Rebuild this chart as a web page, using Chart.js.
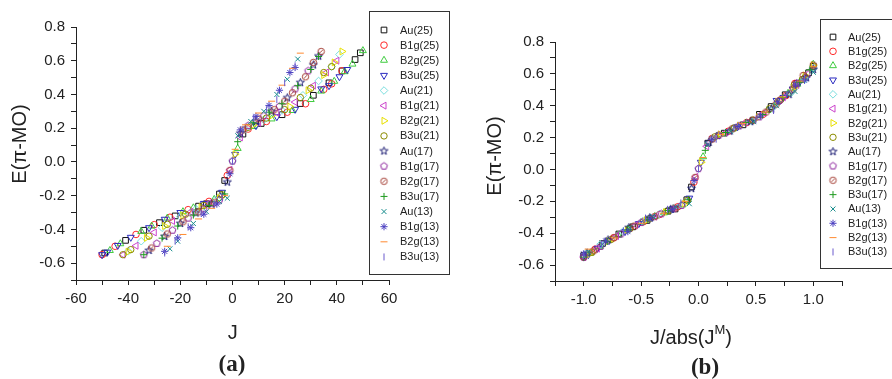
<!DOCTYPE html>
<html>
<head>
<meta charset="utf-8">
<script src="https://cdn.jsdelivr.net/npm/chart.js@4.4.0/dist/chart.umd.min.js"></script>
<style>
  body { margin: 0; background: #fff; width: 892px; height: 379px; overflow: hidden; position: relative; }
  canvas { position: absolute; top: 0; }
  #chartA { left: 0; }
  #chartB { left: 450px; }
</style>
</head>
<body>
<canvas id="chartA" width="450" height="379" style="width:450px;height:379px"></canvas>
<canvas id="chartB" width="442" height="379" style="width:442px;height:379px"></canvas>
<script>
// J values and E(pi-MO) values per symmetry / ring size
const au25J  = [-49, -41, -34, -28, -22, -13, -10, -5, -3, 4, 11, 19, 26, 31, 37, 42, 47, 49];
const au25E  = [-0.54, -0.465, -0.405, -0.36, -0.32, -0.262, -0.248, -0.19, -0.11, 0.165, 0.228, 0.28, 0.346, 0.395, 0.469, 0.54, 0.607, 0.647];
const b1g25J = [-50, -45, -37, -30, -24, -17, -9, -2, 6, 13, 21, 28, 35, 38, 42];
const b1g25E = [-0.55, -0.5, -0.43, -0.372, -0.328, -0.283, -0.234, -0.08, 0.195, 0.24, 0.295, 0.345, 0.43, 0.463, 0.54];
const b2g25J = [-47, -43, -35, -31, -25, -19, -15, -7, 2, 8, 15, 23, 30, 34, 39, 43, 46, 50];
const b2g25E = [-0.525, -0.485, -0.412, -0.38, -0.333, -0.295, -0.272, -0.222, 0.08, 0.21, 0.255, 0.305, 0.37, 0.42, 0.478, 0.535, 0.58, 0.66];
const b3u25J = [-50, -48, -44, -39, -32, -26, -20, -11, -4, 1, 9, 17, 24, 34, 37, 41, 44];
const b3u25E = [-0.55, -0.535, -0.495, -0.447, -0.39, -0.34, -0.3, -0.246, -0.18, 0.045, 0.215, 0.268, 0.312, 0.433, 0.452, 0.505, 0.548];

const au21J  = [-40, -35, -27, -20, -14, -6, 0, 5, 12, 19, 27, 33, 38, 41];
const au21E  = [-0.53, -0.47, -0.39, -0.325, -0.28, -0.222, 0.005, 0.195, 0.25, 0.305, 0.395, 0.48, 0.565, 0.637];
const b1g21J = [-42, -37, -30, -23, -16, -9, -1, 3, 10, 17, 24, 31, 36, 40];
const b1g21E = [-0.55, -0.497, -0.418, -0.35, -0.296, -0.245, -0.046, 0.145, 0.232, 0.292, 0.355, 0.452, 0.53, 0.6];
const b2g21J = [-40, -33, -26, -19, -12, -5, 1, 8, 15, 22, 29, 35, 39, 42];
const b2g21E = [-0.532, -0.45, -0.38, -0.318, -0.268, -0.215, 0.045, 0.22, 0.275, 0.328, 0.425, 0.515, 0.59, 0.655];
const b3u21J = [-42, -39, -32, -25, -18, -11, -4, 6, 13, 20, 26, 30, 35, 38];
const b3u21E = [-0.55, -0.52, -0.44, -0.37, -0.31, -0.258, -0.195, 0.205, 0.26, 0.31, 0.382, 0.437, 0.53, 0.565];

const au17J  = [-32, -26, -20, -14, -8, -2, 3, 9, 15, 21, 26, 31, 33];
const au17E  = [-0.525, -0.442, -0.365, -0.303, -0.25, -0.12, 0.17, 0.24, 0.3, 0.38, 0.47, 0.575, 0.627];
const b1g17J = [-34, -29, -23, -17, -11, -5, 0, 6, 12, 18, 24, 29];
const b1g17E = [-0.55, -0.483, -0.405, -0.333, -0.278, -0.225, 0.005, 0.215, 0.273, 0.33, 0.433, 0.54];
const b2g17J = [-31, -25, -19, -13, -7, -1, 4, 10, 16, 20, 23, 28, 31, 34];
const b2g17E = [-0.51, -0.427, -0.355, -0.296, -0.242, -0.05, 0.19, 0.255, 0.31, 0.36, 0.41, 0.505, 0.59, 0.655];
const b3u17J = [-34, -27, -21, -15, -9, -3, 2, 8, 14, 19, 25, 30, 33];
const b3u17E = [-0.55, -0.452, -0.38, -0.315, -0.258, -0.19, 0.12, 0.232, 0.295, 0.345, 0.452, 0.548, 0.625];

const au13J  = [-24, -21, -15, -10, -5, -2, 2, 7, 12, 17, 21, 25];
const au13E  = [-0.515, -0.47, -0.365, -0.295, -0.235, -0.215, 0.155, 0.24, 0.3, 0.4, 0.49, 0.61];
const b1g13J = [-26, -21, -16, -11, -6, -1, 3, 9, 14, 18, 22, 24];
const b1g13E = [-0.53, -0.45, -0.39, -0.31, -0.25, -0.07, 0.19, 0.27, 0.335, 0.425, 0.53, 0.56];
const b2g13J = [-25, -19, -13, -8, -3, 1, 5, 10, 15, 19, 23, 26];
const b2g13E = [-0.5, -0.43, -0.338, -0.275, -0.2, 0.075, 0.22, 0.29, 0.36, 0.455, 0.555, 0.645];
const b3u13J = [-26, -22, -17, -12, -7, -4, 0, 4, 8, 13, 17, 20, 24];
const b3u13E = [-0.54, -0.47, -0.385, -0.305, -0.25, -0.21, 0.005, 0.19, 0.26, 0.31, 0.37, 0.47, 0.57];

const seriesLabels = ['Au(25)', 'B1g(25)', 'B2g(25)', 'B3u(25)', 'Au(21)', 'B1g(21)', 'B2g(21)', 'B3u(21)',
                      'Au(17)', 'B1g(17)', 'B2g(17)', 'B3u(17)', 'Au(13)', 'B1g(13)', 'B2g(13)', 'B3u(13)'];
const seriesJ = [au25J, b1g25J, b2g25J, b3u25J, au21J, b1g21J, b2g21J, b3u21J,
                 au17J, b1g17J, b2g17J, b3u17J, au13J, b1g13J, b2g13J, b3u13J];
const seriesE = [au25E, b1g25E, b2g25E, b3u25E, au21E, b1g21E, b2g21E, b3u21E,
                 au17E, b1g17E, b2g17E, b3u17E, au13E, b1g13E, b2g13E, b3u13E];

const FONT = '"Liberation Sans", Arial, Helvetica, sans-serif';
Chart.defaults.font.family = FONT;
Chart.defaults.color = '#222';

// little canvases for the markers Chart.js doesn't have
function marker(draw, color) {
  const c = document.createElement('canvas');
  c.width = 11; c.height = 11;
  const g = c.getContext('2d');
  g.strokeStyle = color; g.lineWidth = 1;
  g.translate(5.5, 5.5);
  draw(g);
  return c;
}
const star5 = g => {
  g.beginPath();
  for (let i = 0; i < 10; i++) {
    const r = i % 2 ? 1.7 : 4.2;
    const a = -Math.PI / 2 + i * Math.PI / 5;
    g.lineTo(r * Math.cos(a), r * Math.sin(a));
  }
  g.closePath(); g.stroke();
};
const pentagon = g => {
  g.beginPath();
  for (let i = 0; i < 5; i++) {
    const a = -Math.PI / 2 + i * 2 * Math.PI / 5;
    g.lineTo(3.6 * Math.cos(a), 3.6 * Math.sin(a));
  }
  g.closePath(); g.stroke();
};
const slashCircle = g => {
  g.beginPath(); g.arc(0, 0, 3.2, 0, Math.PI * 2); g.stroke();
  g.beginPath(); g.moveTo(-1.3, 1.3); g.lineTo(1.3, -1.3); g.stroke();
};

const colors = ['#111111', '#ff2a2a', '#3fcc3f', '#2a2ac0', '#7adede', '#cc44cc', '#e8e000', '#8c8c00',
                '#222277', '#8a1e9a', '#a33a30', '#1e9a1e', '#168c8c', '#4a3fc0', '#ff8a30', '#6a5acd'];
const styles = ['rect', 'circle', 'triangle', 'triangle', 'rectRot', 'triangle', 'triangle', 'circle',
                marker(star5, colors[8]), marker(pentagon, colors[9]), marker(slashCircle, colors[10]),
                'cross', 'crossRot', 'star', 'line', 'line'];
const rotations = [0, 0, 0, 180, 0, 270, 90, 0, 0, 0, 0, 0, 0, 0, 0, 90];
const radii = [4, 3.3, 4, 4, 3.8, 4, 4, 3.2, 4, 4, 4, 3.5, 3.5, 3.6, 3.5, 3.5];

function makeDatasets(normalised) {
  return seriesLabels.map((label, i) => {
    const jm = Math.max(...seriesJ[i].map(Math.abs));
    return {
      label: label,
      data: seriesJ[i].map((j, k) => ({ x: normalised ? j / jm : j, y: seriesE[i][k] })),
      showLine: false,
      order: seriesLabels.length - i,   // later series end up on top
      pointStyle: styles[i],
      pointRotation: rotations[i],
      pointRadius: radii[i],
      pointBorderWidth: 1,
      borderColor: colors[i],
      backgroundColor: 'rgba(0,0,0,0)'
    };
  });
}

// boxed legend drawn where the original has it
const boxLegend = {
  id: 'boxLegend',
  afterDraw(chart, args, o) {
    const ctx = chart.ctx;
    ctx.save();
    ctx.fillStyle = '#fff';
    ctx.fillRect(o.x, o.y, o.w, o.h);
    ctx.strokeStyle = '#333';
    ctx.lineWidth = 1;
    ctx.strokeRect(o.x + 0.5, o.y + 0.5, o.w, o.h);
    chart.data.datasets.forEach((ds, i) => {
      const y = o.top + i * o.gap;
      ctx.strokeStyle = ds.borderColor;
      ctx.fillStyle = 'rgba(0,0,0,0)';
      ctx.lineWidth = 1;
      Chart.helpers.drawPoint(ctx, { pointStyle: ds.pointStyle, rotation: ds.pointRotation, radius: ds.pointRadius, borderWidth: 1 }, o.mx, y);
      ctx.fillStyle = '#222';
      ctx.font = '11px ' + FONT;
      ctx.textAlign = 'left';
      ctx.textBaseline = 'middle';
      ctx.fillText(ds.label, o.tx, y + 0.5);
    });
    ctx.restore();
  }
};

// axis titles and panel letter
const panelText = {
  id: 'panelText',
  afterDraw(chart, args, o) {
    const ctx = chart.ctx;
    ctx.save();
    ctx.fillStyle = '#222';
    ctx.textBaseline = 'middle';
    ctx.textAlign = 'center';
    ctx.font = '20px ' + FONT;
    ctx.save();
    ctx.translate(o.yx, o.yy);
    ctx.rotate(-Math.PI / 2);
    ctx.fillText('E(\u03c0-MO)', 0, 0);
    ctx.restore();
    // x title, pieces may be superscript
    ctx.textAlign = 'left';
    ctx.textBaseline = 'alphabetic';
    let total = 0;
    o.xParts.forEach(p => { ctx.font = (p.sup ? '13px ' : '20px ') + FONT; total += ctx.measureText(p.t).width; });
    let x = o.xx - total / 2;
    o.xParts.forEach(p => {
      ctx.font = (p.sup ? '13px ' : '20px ') + FONT;
      ctx.fillText(p.t, x, p.sup ? o.xy - 10 : o.xy);
      x += ctx.measureText(p.t).width;
    });
    ctx.textAlign = 'center';
    ctx.textBaseline = 'middle';
    ctx.font = 'bold 23px "Liberation Serif", "Times New Roman", serif';
    ctx.fillText(o.panel, o.px, o.py);
    ctx.restore();
  }
};

function axisX(min, max, step, every, width, height) {
  return {
    type: 'linear', min: min, max: max,
    afterFit: s => { s.height = height; },
    ticks: {
      stepSize: step, autoSkip: false, maxRotation: 0, padding: 5,
      font: { size: 15 }, color: '#222',
      callback: v => Math.abs(Math.round(v / step)) % every === 0 ? (Math.abs(v) < 1e-9 ? (width ? '0.0' : '0') : (width ? v.toFixed(1) : String(v))) : ''
    },
    grid: { drawOnChartArea: false, drawTicks: true, tickLength: 5, color: '#222' },
    border: { display: true, color: '#222', width: 1 }
  };
}
function axisY(width) {
  return {
    type: 'linear', min: -0.7, max: 0.8,
    afterFit: s => { s.width = width; },
    ticks: {
      stepSize: 0.1, autoSkip: false, padding: 6,
      font: { size: 15 }, color: '#222',
      callback: v => Math.abs(Math.round(v * 10)) % 2 === 0 ? (Math.abs(v) < 1e-9 ? '0.0' : v.toFixed(1)) : ''
    },
    grid: { drawOnChartArea: false, drawTicks: true, tickLength: 5, color: '#222' },
    border: { display: true, color: '#222', width: 1 }
  };
}

new Chart(document.getElementById('chartA'), {
  type: 'scatter',
  data: { datasets: makeDatasets(false) },
  options: {
    responsive: false, animation: false, events: [],
    layout: { padding: { left: 0, top: 27, right: 61, bottom: 0 } },
    scales: { x: axisX(-60, 60, 10, 2, false, 99), y: axisY(76) },
    plugins: {
      legend: { display: false }, tooltip: { enabled: false },
      boxLegend: { x: 369, y: 11, w: 80, h: 263, top: 30, gap: 15.13, mx: 384, tx: 400 },
      panelText: { yx: 20, yy: 144, xx: 232.7, xy: 339, xParts: [{ t: 'J' }], panel: '(a)', px: 232, py: 365 }
    }
  },
  plugins: [boxLegend, panelText]
});

new Chart(document.getElementById('chartB'), {
  type: 'scatter',
  data: { datasets: makeDatasets(true) },
  options: {
    responsive: false, animation: false, events: [],
    layout: { padding: { left: 0, top: 42, right: 50, bottom: 0 } },
    scales: { x: axisX(-1.25, 1.25, 0.25, 2, true, 98), y: axisY(105) },
    plugins: {
      legend: { display: false }, tooltip: { enabled: false },
      boxLegend: { x: 370, y: 19, w: 80, h: 249, top: 37, gap: 14.33, mx: 383, tx: 398 },
      panelText: { yx: 45, yy: 156, xx: 241, xy: 344, xParts: [{ t: 'J/abs(J' }, { t: 'M', sup: true }, { t: ')' }], panel: '(b)', px: 255, py: 368 }
    }
  },
  plugins: [boxLegend, panelText]
});
</script>
</body>
</html>
